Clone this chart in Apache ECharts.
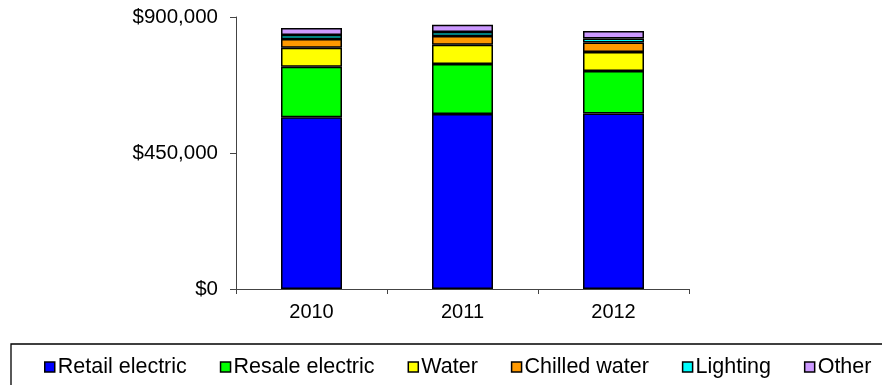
<!DOCTYPE html>
<html>
<head>
<meta charset="utf-8">
<script src="https://cdn.jsdelivr.net/npm/echarts@6/dist/echarts.min.js"></script>
<style>
  html, body { margin: 0; padding: 0; background: #fff; }
  #chart { width: 882px; height: 385px; }
</style>
</head>
<body>
<div id="chart"></div>
<script>
// Annual utility costs by category
const years = ['2010', '2011', '2012'];
const retailElectric = [568000, 579000, 581000];
const resaleElectric = [167500, 165500, 140300];
const water = [63000, 64000, 62900];
const chilledWater = [29000, 28700, 31800];
const lighting = [13000, 13300, 13200];
const other = [23000, 24100, 24500];

const seriesNames = ['Retail electric', 'Resale electric', 'Water', 'Chilled water', 'Lighting', 'Other'];
const seriesData = [retailElectric, resaleElectric, water, chilledWater, lighting, other];
const seriesColors = ['#0000FF', '#00FF00', '#FFFF00', '#FF9900', '#00FFFF', '#CC99FF'];

const FONT = '"Liberation Sans", Arial, sans-serif';

const chart = echarts.init(document.getElementById('chart'));

const fmtMoney = v => '$' + Math.round(v).toString().replace(/\B(?=(\d{3})+(?!\d))/g, ',');

chart.setOption({
  animation: false,
  backgroundColor: '#ffffff',
  grid: { left: 236, right: 193, top: 17, bottom: 96 },
  graphic: [{
    type: 'rect',
    shape: { x: 11, y: 344, width: 900, height: 60 },
    style: { fill: 'none', stroke: '#000', lineWidth: 1.3 },
    silent: true,
    z: 0
  }],
  legend: {
    top: 356,
    left: 44,
    width: 880,
    padding: 0,
    itemWidth: 10,
    itemHeight: 10,
    itemGap: 33,
    icon: 'rect',
    itemStyle: { borderColor: '#000', borderWidth: 1.5 },
    textStyle: { fontFamily: FONT, fontSize: 21.5, color: '#000', padding: [0, 0, 0, -2] },
    data: seriesNames
  },
  xAxis: {
    type: 'category',
    data: years,
    axisLine: { lineStyle: { color: '#444', width: 1 } },
    axisTick: { show: true, length: 5, lineStyle: { color: '#444' } },
    axisLabel: { fontFamily: FONT, fontSize: 20, color: '#000', margin: 13 }
  },
  yAxis: {
    type: 'value',
    min: 0,
    max: 900000,
    interval: 450000,
    splitLine: { show: false },
    axisLine: { show: true, lineStyle: { color: '#444', width: 1 } },
    axisTick: { show: true, length: 6, lineStyle: { color: '#444' } },
    axisLabel: { fontFamily: FONT, fontSize: 20.5, color: '#000', margin: 18, formatter: fmtMoney }
  },
  series: seriesNames.map((name, i) => ({
    name: name,
    type: 'bar',
    stack: 'total',
    barWidth: 61,
    data: seriesData[i],
    itemStyle: { color: seriesColors[i], borderColor: '#000', borderWidth: 1.5 }
  }))
});
</script>
</body>
</html>
